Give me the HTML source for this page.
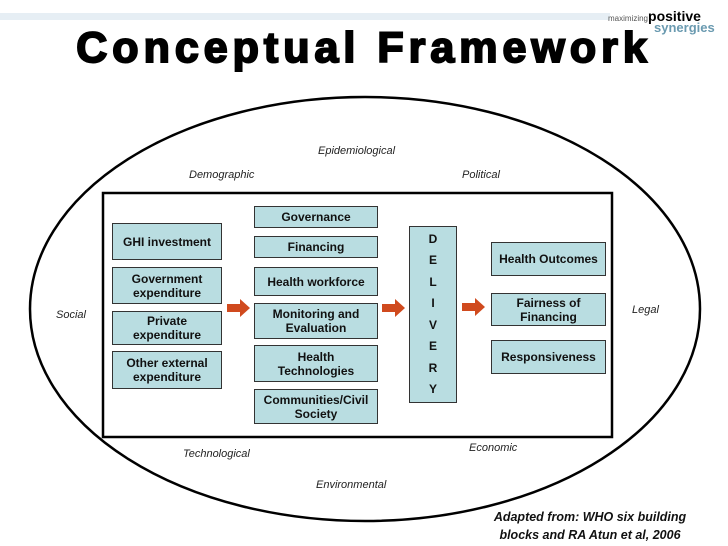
<!DOCTYPE html>
<html><head><meta charset="utf-8"><style>
body{margin:0;width:728px;height:546px;background:#fff;position:relative;overflow:hidden;font-family:"Liberation Sans",Arial,sans-serif}
.b{position:absolute;background:#b9dde1;border:1.5px solid #333;box-sizing:border-box;display:flex;align-items:center;justify-content:center;text-align:center;font-weight:bold;font-size:12px;line-height:14px;color:#111}
.t{position:absolute;font-style:italic;font-size:11px;color:#222}
</style></head><body>
<div style="position:absolute;left:0;top:13px;width:610px;height:7px;background:#e6eef4"></div>
<div style="position:absolute;left:608px;top:8px;font-size:8px;color:#555">maximizing<b style="font-size:14px;color:#000">positive</b></div>
<div style="position:absolute;left:654px;top:20px;font-size:13px;font-weight:bold;color:#6a9ab0">synergies</div>
<div style="position:absolute;left:0;width:728px;top:24px;text-align:center;font-size:43px;font-weight:900;letter-spacing:5px;-webkit-text-stroke:2px #000;color:#000">Conceptual Framework</div>
<svg style="position:absolute;left:0;top:0" width="728" height="546">
<ellipse cx="365" cy="309" rx="335" ry="212" fill="none" stroke="#000" stroke-width="2.5"/>
<rect x="103" y="193" width="509" height="244" fill="#fff" stroke="#000" stroke-width="2.5"/>
<g fill="#d04a1e">
<polygon points="227,304 240,304 240,299 250,308 240,317 240,312 227,312"/>
<polygon points="382,304 395,304 395,299 405,308 395,317 395,312 382,312"/>
<polygon points="462,303 475,303 475,298 485,307 475,316 475,311 462,311"/>
</g>
</svg>
<div class="t" style="left:318px;top:145px">Epidemiological</div>
<div class="t" style="left:189px;top:169px">Demographic</div>
<div class="t" style="left:462px;top:169px">Political</div>
<div class="t" style="left:56px;top:309px">Social</div>
<div class="t" style="left:632px;top:304px">Legal</div>
<div class="t" style="left:183px;top:448px">Technological</div>
<div class="t" style="left:469px;top:442px">Economic</div>
<div class="t" style="left:316px;top:479px">Environmental</div>
<div class="b" style="left:112px;top:223px;width:110px;height:37px">GHI investment</div>
<div class="b" style="left:112px;top:267px;width:110px;height:37px">Government<br>expenditure</div>
<div class="b" style="left:112px;top:311px;width:110px;height:34px">Private<br>expenditure</div>
<div class="b" style="left:112px;top:351px;width:110px;height:38px">Other external<br>expenditure</div>
<div class="b" style="left:254px;top:206px;width:124px;height:22px">Governance</div>
<div class="b" style="left:254px;top:236px;width:124px;height:22px">Financing</div>
<div class="b" style="left:254px;top:267px;width:124px;height:29px">Health workforce</div>
<div class="b" style="left:254px;top:303px;width:124px;height:36px">Monitoring and<br>Evaluation</div>
<div class="b" style="left:254px;top:345px;width:124px;height:37px">Health<br>Technologies</div>
<div class="b" style="left:254px;top:389px;width:124px;height:35px">Communities/Civil<br>Society</div>
<div class="b" style="left:409px;top:226px;width:48px;height:177px;line-height:21.5px">D<br>E<br>L<br>I<br>V<br>E<br>R<br>Y</div>
<div class="b" style="left:491px;top:242px;width:115px;height:34px">Health Outcomes</div>
<div class="b" style="left:491px;top:293px;width:115px;height:33px">Fairness of<br>Financing</div>
<div class="b" style="left:491px;top:340px;width:115px;height:34px">Responsiveness</div>
<div style="position:absolute;left:470px;top:508px;width:240px;text-align:center;font-weight:bold;font-style:italic;font-size:12.5px;line-height:18px;color:#111">Adapted from: WHO six building<br>blocks and RA Atun et al, 2006</div>
</body></html>
